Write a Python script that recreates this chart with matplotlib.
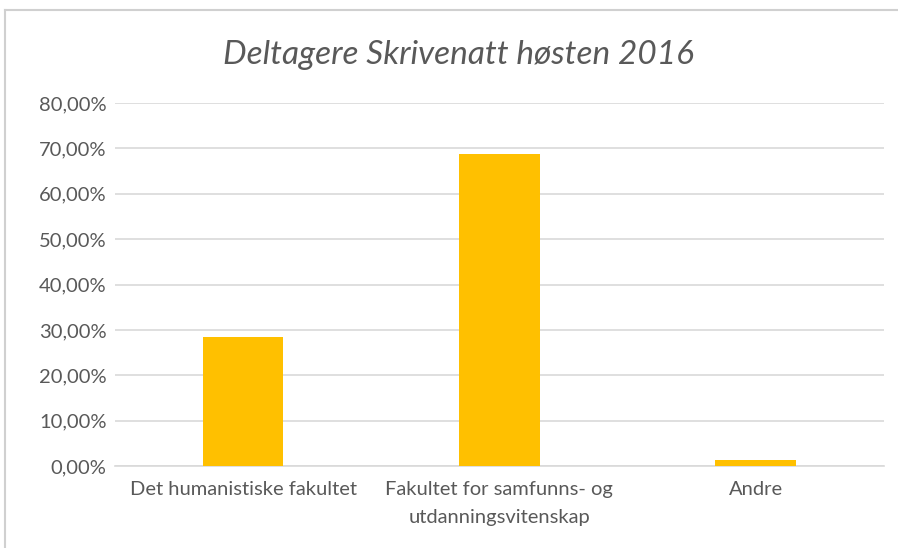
import matplotlib.pyplot as plt
from matplotlib.lines import Line2D
from matplotlib.ticker import FuncFormatter

# Data
categories = ["Det humanistiske fakultet", "Fakultet for samfunns- og\nutdanningsvitenskap", "Andre"]
values = [0.285, 0.688, 0.014]
yticks = [0, 0.1, 0.2, 0.3, 0.4, 0.5, 0.6, 0.7, 0.8]

plt.rcParams['font.family'] = ['Lato', 'DejaVu Sans']

fig = plt.figure(figsize=(8.98, 5.48), dpi=100)
ax = fig.add_axes([0.128, 0.1496, 0.856, 0.6624])

x = range(len(categories))
ax.bar(x, values, width=0.315, color="#FFC000", zorder=3)

ax.set_xlim(-0.5, 2.5)
ax.set_ylim(0, 0.8)
ax.set_yticks(yticks)
ax.yaxis.set_major_formatter(FuncFormatter(lambda v, p: f"{v*100:.2f}%".replace(".", ",")))
ax.set_xticks(list(x))
ax.set_xticklabels(categories, linespacing=1.8)

ax.grid(axis="y", color="#d9d9d9", linewidth=1.2, zorder=0)
for s in ["top", "right", "left"]:
    ax.spines[s].set_visible(False)
ax.spines["bottom"].set_color("#d9d9d9")
ax.spines["bottom"].set_linewidth(1.2)
ax.tick_params(axis="both", length=0, labelsize=14.5, colors="#595959")
ax.tick_params(axis="y", pad=6)
ax.tick_params(axis="x", pad=11)

fig.text(0.511, 0.9, "Deltagere Skrivenatt høsten 2016", ha="center", va="center",
         fontsize=24, style="italic", color="#595959")

# chart frame
fig.add_artist(Line2D([5/898, 1], [1 - 10/548, 1 - 10/548], color="#d0d0d0", lw=1.5))
fig.add_artist(Line2D([5/898, 5/898], [0, 1 - 10/548], color="#d0d0d0", lw=1.5))

plt.savefig("out.png", dpi=100)
